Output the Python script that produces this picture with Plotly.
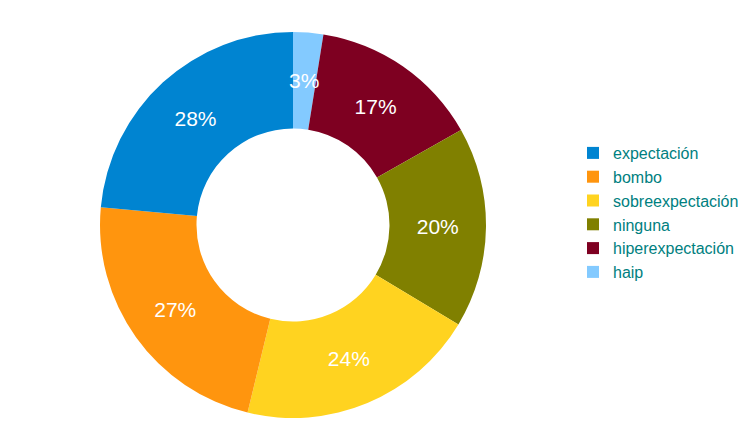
'''
    Donut chart of expectation terms.
'''
import math

import plotly.graph_objects as go

CATEGORIES = ["expectación", "bombo", "sobreexpectación", "ninguna",
              "hiperexpectación", "haip"]
VALUES = [28, 27, 24, 20, 17, 3]
LABELS = ["28%", "27%", "24%", "20%", "17%", "3%"]
COLORS = ["#0084d1", "#ff950e", "#ffd320", "#808000", "#7e0021", "#83caff"]

W, H = 756, 425
DOM_X = [100 / W, 486 / W]
DOM_Y = [1 - 418 / H, 1 - 32 / H]
HOLE = 0.5
TEXT_FONT = dict(size=21, color="white", family="Liberation Sans, Arial")

# drawn clockwise from 12 o'clock in reverse order, legend reversed back
values = VALUES[::-1]
labels = LABELS[::-1]
total = sum(values)

# thin slices get their label as an annotation at mid-ring (plotly pushes them outward)
pie_text = []
annotations = []
radius_px = (DOM_Y[1] - DOM_Y[0]) * H / 2
cx = (DOM_X[0] + DOM_X[1]) / 2
cy = (DOM_Y[0] + DOM_Y[1]) / 2
cum = 0
for val, lab in zip(values, labels):
    frac = val / total
    if frac < 0.05:
        pie_text.append("")
        ang = 2 * math.pi * (cum + frac / 2)
        r = radius_px * (1 + HOLE) / 2
        annotations.append(dict(
            x=cx + r * math.sin(ang) / W,
            y=cy + r * math.cos(ang) / H,
            xref="paper", yref="paper",
            xanchor="center", yanchor="middle",
            text=lab, showarrow=False, font=TEXT_FONT,
        ))
    else:
        pie_text.append(lab)
    cum += frac

fig = go.Figure(
    go.Pie(
        labels=CATEGORIES[::-1],
        values=values,
        text=pie_text,
        textinfo="text",
        textposition="inside",
        insidetextorientation="horizontal",
        textfont=TEXT_FONT,
        hole=HOLE,
        sort=False,
        direction="clockwise",
        rotation=0,
        marker=dict(colors=COLORS[::-1], line=dict(width=0)),
        domain=dict(x=DOM_X, y=DOM_Y),
    )
)

fig.update_layout(
    width=W,
    height=H,
    margin=dict(l=0, r=0, t=0, b=0),
    paper_bgcolor="white",
    plot_bgcolor="white",
    font=dict(family="Liberation Sans, Arial", size=16, color="#008080"),
    uniformtext=dict(minsize=21, mode="show"),
    annotations=annotations,
    legend=dict(
        x=573 / W,
        y=0.5,
        xanchor="left",
        yanchor="middle",
        traceorder="reversed",
        font=dict(size=16, color="#008080"),
        itemwidth=30,
    ),
)

fig.write_html(
    "out.html",
    config={"displayModeBar": False},
    post_script="document.body.style.margin='0';",
)
